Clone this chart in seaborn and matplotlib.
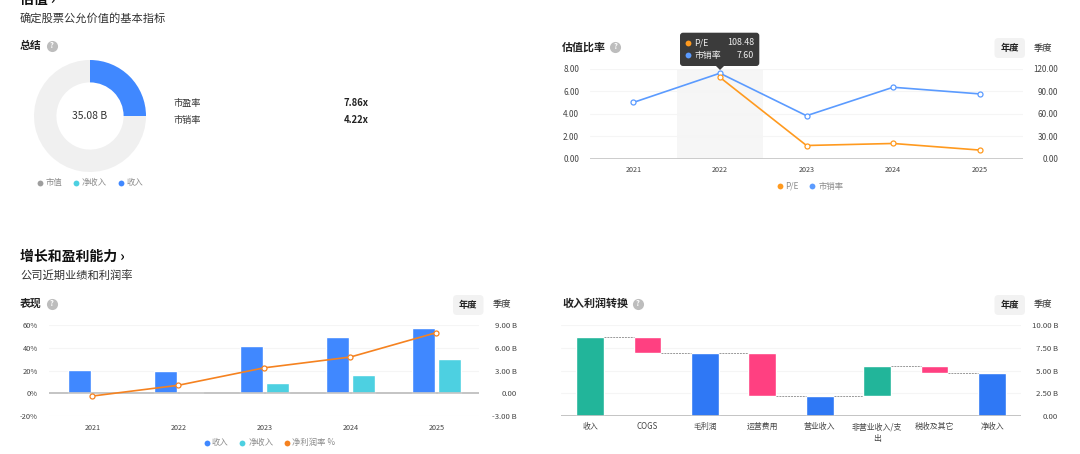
import numpy as np
import pandas as pd
import seaborn as sns
import matplotlib
matplotlib.use("Agg")
import matplotlib.pyplot as plt
from matplotlib.patches import FancyBboxPatch, Polygon

W, H = 1080, 454

years = ["2021", "2022", "2023", "2024", "2025"]

# donut
market_cap = 35.08
donut_revenue = 8.77

# valuation ratios
ps_ratio = [5.0, 7.60, 3.82, 6.35, 5.76]
pe_ratio = [np.nan, 108.48, 17.6, 20.3, 11.5]

# performance, billions and percent
revenue = [3.1, 2.93, 6.3, 7.4, 8.7]
net_income = [0.03, 0.18, 1.33, 2.4, 4.6]
net_margin = [-2.4, 7.1, 22.5, 32, 53.5]

# waterfall, billions
wf_labels = ["收入", "COGS", "毛利润", "运营费用", "营业收入", "非营业收入/支\n出", "税收及其它", "净收入"]
wf_low = [0, 7.0, 0, 2.25, 0, 2.25, 4.7, 0]
wf_high = [8.75, 8.75, 7.0, 7.0, 2.25, 5.5, 5.5, 4.7]
wf_kind = ["up", "down", "total", "down", "total", "up", "down", "total"]
wf_colors = {"up": "#22b59a", "down": "#ff4081", "total": "#2f78f5"}

sns.set_theme(style="white")
plt.rcParams["font.family"] = ["Noto Sans CJK SC", "DejaVu Sans"]
plt.rcParams["axes.unicode_minus"] = False

GRID = "#f5f5f5"
BASE = "#c4c4c4"
TXT = "#444444"
MUTED = "#8c8c8c"

fig = plt.figure(figsize=(W / 100, H / 100), dpi=100)


def px_axes(x0, y0, x1, y1):
    return fig.add_axes([x0 / W, 1 - y1 / H, (x1 - x0) / W, (y1 - y0) / H])


def style_axis(ax):
    for s in ax.spines.values():
        s.set_visible(False)
    ax.grid(False)
    ax.tick_params(length=0)
    ax.set_xlabel("")
    ax.set_ylabel("")
    ax.patch.set_alpha(0)


def hgrid(ax, ticks, base=0):
    for t in ticks:
        if t == base:
            ax.axhline(t, color=BASE, lw=1.2, zorder=1.5)
        else:
            ax.axhline(t, color=GRID, lw=0.8, zorder=0.5)


# ---- donut
ax = px_axes(34, 60, 146, 172)
ax.pie([donut_revenue, market_cap - donut_revenue], colors=["#4088ff", "#f0f0f0"],
       startangle=90, counterclock=False, radius=1.0,
       wedgeprops={"width": 0.4, "linewidth": 0})
ax.set_xlim(-1, 1)
ax.set_ylim(-1, 1)

# ---- valuation ratios
ax = px_axes(590, 68.7, 1023, 158.7)
ax.axvspan(0.5, 1.5, color="#f6f6f6", lw=0, zorder=0.2)
hgrid(ax, [0, 2, 4, 6, 8])
sns.lineplot(x=years, y=ps_ratio, ax=ax, color="#5b9bff", lw=1.2, marker="o", ms=3.6,
             markerfacecolor="white", markeredgecolor="#5b9bff", markeredgewidth=0.9, zorder=4)
ax.set_ylim(0, 8)
ax.set_xlim(-0.5, 4.5)
ax.set_yticks([0, 2, 4, 6, 8], ["%.2f" % v for v in [0, 2, 4, 6, 8]])
style_axis(ax)
ax.tick_params(axis="y", pad=7.9, labelsize=5.9, labelcolor=TXT)
ax.tick_params(axis="x", pad=5.5, labelsize=5.2, labelcolor=TXT)
ax2 = ax.twinx()
sns.lineplot(x=years, y=pe_ratio, ax=ax2, color="#ff9a1f", lw=1.2, marker="o", ms=3.6,
             markerfacecolor="white", markeredgecolor="#ff9a1f", markeredgewidth=0.9, zorder=4)
ax2.set_ylim(0, 120)
ax2.set_yticks([0, 30, 60, 90, 120], ["%.2f" % v for v in [0, 30, 60, 90, 120]], ha="right")
style_axis(ax2)
ax2.tick_params(axis="y", pad=25.4, labelsize=5.8, labelcolor=TXT)

# ---- performance
ax = px_axes(49.3, 325.3, 479.3, 416)
hgrid(ax, [-3, 0, 3, 6, 9])
perf = pd.DataFrame({"year": years * 2,
                     "value": revenue + net_income,
                     "series": ["收入"] * 5 + ["净收入"] * 5})
sns.barplot(data=perf, x="year", y="value", hue="series", ax=ax, legend=False, width=0.6, gap=0.1,
            palette={"收入": "#4088ff", "净收入": "#4dd0e1"}, saturation=1, zorder=2)
ax.axhline(0, color=BASE, lw=1.2, zorder=3)
ax.set_ylim(-3, 9)
ax.set_xlim(-0.5, 4.5)
ax2 = ax.twinx()
ax.yaxis.tick_right()
ax.set_yticks([-3, 0, 3, 6, 9], ["-3.00 B", "0.00", "3.00 B", "6.00 B", "9.00 B"], ha="right")
style_axis(ax)
ax.tick_params(axis="y", pad=27.1, labelsize=5.6, labelcolor=TXT)
ax.tick_params(axis="x", pad=5.5, labelsize=5.2, labelcolor=TXT)
sns.lineplot(x=np.arange(len(years)), y=net_margin, ax=ax2, color="#f58220", lw=1.2, marker="o", ms=3.6,
             markerfacecolor="white", markeredgecolor="#f58220", markeredgewidth=0.9)
ax2.set_ylim(-20, 60)
ax2.yaxis.tick_left()
ax2.set_yticks([-20, 0, 20, 40, 60], ["-20%", "0%", "20%", "40%", "60%"])
style_axis(ax2)
ax2.tick_params(axis="y", pad=8.4, labelsize=5.4, labelcolor=TXT)

# ---- waterfall
ax = px_axes(561.3, 325.3, 1020.7, 416)
hgrid(ax, [0, 2.5, 5, 7.5, 10])
low = np.array(wf_low)
high = np.array(wf_high)
kind = np.array(wf_kind)
labels = np.array(wf_labels)
for k, c in wf_colors.items():
    m = kind == k
    sns.barplot(x=labels[m], y=(high - low)[m], bottom=low[m], order=wf_labels, ax=ax,
                color=c, saturation=1, width=0.485, zorder=2)
# dashed link between neighbouring bars
for i in range(len(wf_labels) - 1):
    level = low[i] if kind[i] == "down" else high[i]
    ax.plot([i + 0.2425, i + 1 - 0.2425], [level, level], color="#999999", lw=0.7, ls=(0, (2, 1)), zorder=3)
ax.axhline(0, color=BASE, lw=1.2, zorder=3)
ax.set_ylim(0, 10)
ax.set_xlim(-0.5, 7.5)
ax.yaxis.tick_right()
ax.set_yticks([0, 2.5, 5, 7.5, 10], ["0.00", "2.50 B", "5.00 B", "7.50 B", "10.00 B"], ha="right")
style_axis(ax)
ax.tick_params(axis="y", pad=26.9, labelsize=5.6, labelcolor=TXT)
ax.tick_params(axis="x", pad=4.5, labelsize=5.7, labelcolor=TXT)
for t in ax.get_xticklabels():
    t.set_linespacing(1.37)

# ---- page overlay in pixel coordinates
ov = fig.add_axes([0, 0, 1, 1], zorder=20)
ov.set_xlim(0, W)
ov.set_ylim(H, 0)
ov.axis("off")


def label(x, y, s, size=6.2, color=TXT, weight="normal", ha="left"):
    ov.text(x, y, s, fontsize=size, color=color, fontweight=weight, ha=ha, va="center", clip_on=True)


def dot(x, y, c, ms=4.2):
    ov.plot([x], [y], "o", color=c, ms=ms, mew=0)


def help_icon(x, y):
    dot(x, y, "#bdbdbd", ms=8)
    ov.text(x, y, "?", fontsize=5.5, color="white", fontweight="bold", ha="center", va="center")


def period_switch(x0, y0, q_x):
    ov.add_patch(FancyBboxPatch((x0, y0), 30.5, 20, boxstyle="round,pad=0,rounding_size=4",
                                fc="#f2f2f2", ec="none", lw=0))
    label(x0 + 15, y0 + 10, "年度", size=6.7, color="#222222", weight="bold", ha="center")
    label(q_x, y0 + 10, "季度", size=6.7, color="#333333", ha="center")


label(20, 0, "估值 ›", size=10, color="#111111", weight="bold")
label(20, 18, "确定股票公允价值的基本指标", size=8.1, color="#333333")
label(20, 46, "总结", size=7.8, color="#222222", weight="bold")
help_icon(51.7, 46)
label(90, 116, "%.2f B" % market_cap, size=7.5, color="#333333", ha="center")
label(173, 103, "市盈率", size=6.6, color="#333333")
label(173, 120, "市销率", size=6.6, color="#333333")
label(368.5, 103, "7.86x", size=6.8, color="#222222", weight="bold", ha="right")
label(368.5, 120, "4.22x", size=6.8, color="#222222", weight="bold", ha="right")
for dx, tx, c, s in [(39.7, 45.5, "#9e9e9e", "市值"), (75.7, 81.7, "#4dd0e1", "净收入"), (120.7, 126.7, "#4088ff", "收入")]:
    dot(dx, 183, c)
    label(tx, 183, s, size=6, color=MUTED)

label(562, 47, "估值比率", size=7.9, color="#222222", weight="bold")
help_icon(615.3, 46.7)
period_switch(994.5, 38, 1043)
for dx, tx, c, s in [(779.5, 785, "#ff9a1f", "P/E"), (812, 818.5, "#5b9bff", "市销率")]:
    dot(dx, 186, c)
    label(tx, 186, s, size=6, color=MUTED)

# tooltip
ov.add_patch(FancyBboxPatch((680, 32.7), 79.3, 33.3, boxstyle="round,pad=0,rounding_size=3",
                            fc="#3b3b3b", ec="none", lw=0))
ov.add_patch(Polygon([[715.5, 65.5], [724.5, 65.5], [720, 70]], fc="#3b3b3b", ec="none"))
dot(688.3, 42.7, "#ff9a1f")
dot(688.3, 55.3, "#5b9bff")
label(694.3, 42.7, "P/E", size=6.4, color="#eeeeee")
label(694.3, 55.3, "市销率", size=6.4, color="#eeeeee")
label(754, 42.7, "108.48", size=6.4, color="#eeeeee", ha="right")
label(754, 55.3, "7.60", size=6.4, color="#eeeeee", ha="right")

label(20, 256.5, "增长和盈利能力 ›", size=10, color="#111111", weight="bold")
label(20, 275, "公司近期业绩和利润率", size=8.1, color="#333333")
label(20, 304, "表现", size=7.8, color="#222222", weight="bold")
help_icon(51.7, 304)
period_switch(453, 295, 501.7)
for dx, tx, c, s in [(206.5, 212, "#4088ff", "收入"), (242.3, 248.5, "#4dd0e1", "净收入"), (286.5, 292.5, "#f58220", "净利润率 %")]:
    dot(dx, 443, c)
    label(tx, 443, s, size=6, color=MUTED)

label(562, 304, "收入利润转换", size=7.9, color="#222222", weight="bold")
help_icon(637.8, 304)
period_switch(994.5, 295, 1043)

fig.savefig("out.png", dpi=100, facecolor="white")
